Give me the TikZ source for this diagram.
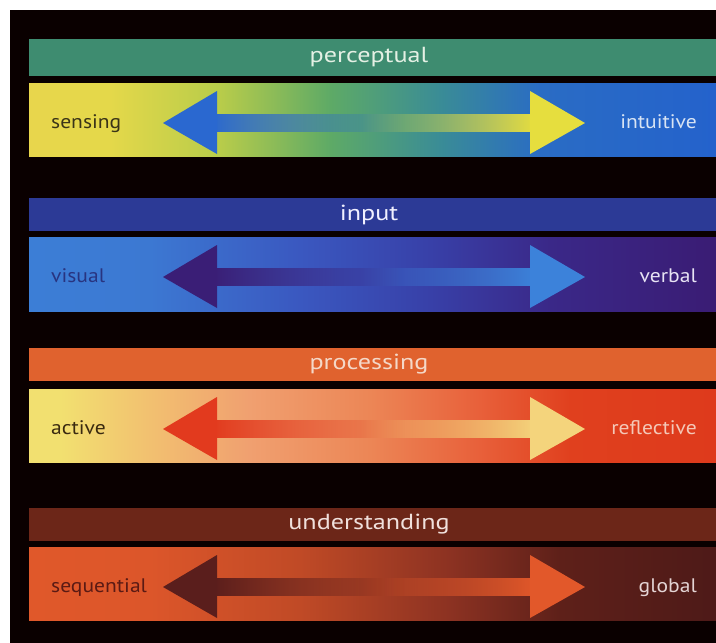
\documentclass[tikz,border=0pt]{standalone}
\usepackage{fontspec}
\setmainfont{PT Sans}
\newfontfamily\hdfont[FakeStretch=1.2]{PT Sans}
\newfontfamily\lbfont[FakeStretch=1.1]{PT Sans}
\usetikzlibrary{fadings}

% header colours
\definecolor{hc1}{HTML}{3E8C70}
\definecolor{hc2}{HTML}{2C3A96}
\definecolor{hc3}{HTML}{E0622E}
\definecolor{hc4}{HTML}{6C2618}
% header text colours
\definecolor{ht1}{HTML}{E4F0E4}
\definecolor{ht2}{HTML}{F0F0FF}
\definecolor{ht3}{HTML}{F4D8C8}
\definecolor{ht4}{HTML}{F0E0DC}
% arrow colours
\definecolor{la1}{HTML}{2A68D0}\definecolor{ra1}{HTML}{E6DE3E}
\definecolor{la2}{HTML}{3A1E76}\definecolor{ra2}{HTML}{3C82DA}
\definecolor{la3}{HTML}{E23A1E}\definecolor{ra3}{HTML}{F4D47C}
\definecolor{la4}{HTML}{5A1E1C}\definecolor{ra4}{HTML}{E2582A}
% label colours
\definecolor{lc1}{HTML}{3A3418}\definecolor{rc1}{HTML}{D8E4F4}
\definecolor{lc2}{HTML}{283480}\definecolor{rc2}{HTML}{E8E4F4}
\definecolor{lc3}{HTML}{3A2A10}\definecolor{rc3}{HTML}{F4C8B8}
\definecolor{lc4}{HTML}{5A1A14}\definecolor{rc4}{HTML}{E4D4D4}
% bar gradient stops
\definecolor{a0}{HTML}{E8D64C}\definecolor{a1}{HTML}{E4D84A}\definecolor{a2}{HTML}{B8CC4A}
\definecolor{a3}{HTML}{5EAA66}\definecolor{a4}{HTML}{3A8C96}\definecolor{a5}{HTML}{2A6CC4}\definecolor{a6}{HTML}{2462CC}
\definecolor{b0}{HTML}{3C7ED6}\definecolor{b1}{HTML}{3C78D2}\definecolor{b2}{HTML}{3A58C0}
\definecolor{b3}{HTML}{3840A8}\definecolor{b4}{HTML}{3A2888}\definecolor{b5}{HTML}{3A1C74}
\definecolor{c0}{HTML}{F2E070}\definecolor{c1}{HTML}{F2C070}\definecolor{c2}{HTML}{F0A070}
\definecolor{c3}{HTML}{EC8656}\definecolor{c4}{HTML}{E8603A}\definecolor{c5}{HTML}{E0401E}\definecolor{c6}{HTML}{DE3A1C}
\definecolor{d0}{HTML}{E0582A}\definecolor{d1}{HTML}{DC562A}\definecolor{d2}{HTML}{C04A26}
\definecolor{d3}{HTML}{8C3222}\definecolor{d4}{HTML}{5E2019}\definecolor{d5}{HTML}{4E1A18}

% positions: p px -> 25 + 50*(p-29)/687 bp
\pgfdeclarehorizontalshading{bar1}{100bp}{color(0bp)=(a0); color(25bp)=(a0); color(30.9bp)=(a1);
  color(38.9bp)=(a2); color(46.9bp)=(a3); color(54.9bp)=(a4); color(62.2bp)=(a5); color(75bp)=(a6); color(100bp)=(a6)}
\pgfdeclarehorizontalshading{bar2}{100bp}{color(0bp)=(b0); color(25bp)=(b0); color(33.8bp)=(b1);
  color(44.7bp)=(b2); color(54.2bp)=(b3); color(62.9bp)=(b4); color(75bp)=(b5); color(100bp)=(b5)}
\pgfdeclarehorizontalshading{bar3}{100bp}{color(0bp)=(c0); color(25bp)=(c0); color(27.3bp)=(c0);
  color(33.8bp)=(c1); color(41bp)=(c2); color(49.8bp)=(c3); color(57.8bp)=(c4); color(64.4bp)=(c5); color(75bp)=(c6); color(100bp)=(c6)}
\pgfdeclarehorizontalshading{bar4}{100bp}{color(0bp)=(d0); color(25bp)=(d0); color(33.8bp)=(d1);
  color(44.7bp)=(d2); color(55.6bp)=(d3); color(63.6bp)=(d4); color(75bp)=(d5); color(100bp)=(d5)}

\tikzfading[name=fadeR, left color=transparent!0, middle color=transparent!15, right color=transparent!100]
\tikzfading[name=fadeL, left color=transparent!100, middle color=transparent!15, right color=transparent!0]

\tikzset{
  hdtext/.style={inner sep=0pt, font=\hdfont\fontsize{21.8}{26}\selectfont},
  lbtext/.style={inner sep=0pt, font=\lbfont\fontsize{19.6}{23}\selectfont},
}

\begin{document}
\begin{tikzpicture}[x=1pt, y=-1pt]
\useasboundingbox (0,0) rectangle (716,643);
\fill[white] (0,0) rectangle (716,643);
\fill[black!96!red] (10,10) rectangle (716,643);
\foreach \i/\ha/\hb/\ba/\bb/\htxt/\ltxt/\rtxt in {
  1/39/76/83/156/perceptual/sensing/intuitive,
  2/198/231/237/311/input/visual/verbal,
  3/348/381/389/462/processing/active/reflective,
  4/508/541/547/620/understanding/sequential/global}{
  \pgfmathsetmacro\cy{\ba+40}
  \fill[hc\i] (29,\ha) rectangle (716,\hb);
  \shade[shading=bar\i] (29,\ba) rectangle (716,\bb);
  % arrow shafts (fading towards the middle)
  \fill[la\i, path fading=fadeR] (212,{\cy-9}) rectangle (405,{\cy+9});
  \fill[ra\i, path fading=fadeL] (360,{\cy-9}) rectangle (535,{\cy+9});
  % arrow heads
  \fill[la\i] (163,\cy) -- (217,{\cy-32}) -- (217,{\cy+31}) -- cycle;
  \fill[ra\i] (585,\cy) -- (530,{\cy-32}) -- (530,{\cy+31}) -- cycle;
  % texts
  \node[hdtext, text=ht\i] (h\i) at (369,{(\ha+\hb)/2}) {\htxt};
  \node[lbtext, anchor=base west, text=lc\i] (l\i) at (51,{\ba+45}) {\ltxt};
  \node[lbtext, anchor=base east, text=rc\i] (r\i) at (697,{\ba+45}) {\rtxt};
}
\end{tikzpicture}
\end{document}
